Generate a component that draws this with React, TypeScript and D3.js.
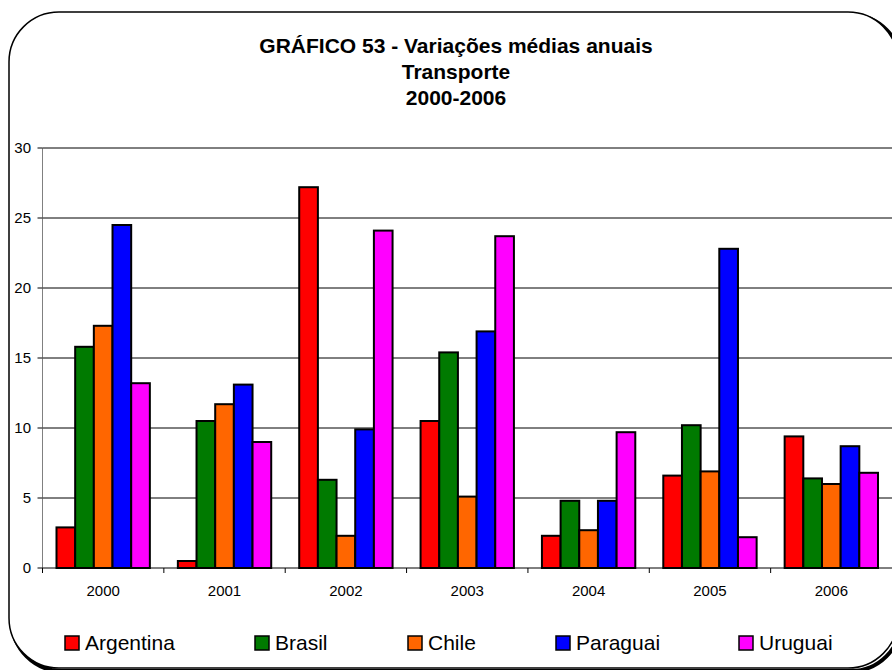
import React from 'react';
import * as d3 from 'd3';

const years = ['2000', '2001', '2002', '2003', '2004', '2005', '2006'];
const countries = ['Argentina', 'Brasil', 'Chile', 'Paraguai', 'Uruguai'];
const colors = ['#ff0000', '#007a00', '#ff6600', '#0000ff', '#ff00ff'];

const argentina = [2.9, 0.5, 27.2, 10.5, 2.3, 6.6, 9.4];
const brasil = [15.8, 10.5, 6.3, 15.4, 4.8, 10.2, 6.4];
const chile = [17.3, 11.7, 2.3, 5.1, 2.7, 6.9, 6.0];
const paraguai = [24.5, 13.1, 9.9, 16.9, 4.8, 22.8, 8.7];
const uruguai = [13.2, 9.0, 24.1, 23.7, 9.7, 2.2, 6.8];

const yTicks = [0, 5, 10, 15, 20, 25, 30];
const titleLines = ['GRÁFICO 53 - Variações médias anuais', 'Transporte', '2000-2006'];

const series = [argentina, brasil, chile, paraguai, uruguai];

const W = 892;
const H = 670;
const left = 42.5;
const right = 892;
const top = 148;
const bottom = 568;
const font = 'Arial, "Liberation Sans", sans-serif';

// legend item x positions (marker left edge)
const legendX = [65, 255, 408, 556, 739];

export default function App() {
  const x0 = d3.scaleBand<string>().domain(years).range([left, right]);
  const step = x0.bandwidth();
  const bw = step / 6.5;
  const x1 = d3.scaleBand<string>().domain(countries).range([0.75 * bw, step - 0.75 * bw]);
  const y = d3.scaleLinear().domain([0, 30]).range([bottom, top]);

  return (
    <svg width={W} height={H} style={{ position: 'absolute', left: 0, top: 0 }}>
      <rect width={W} height={H} fill="#fff" />
      {/* chart border with shadow */}
      <rect x={12} y={15} width={889} height={656} rx={50} ry={50} fill="none" stroke="#000" strokeWidth={4} />
      <rect x={9} y={12} width={889} height={656} rx={50} ry={50} fill="#fff" stroke="#000" strokeWidth={1.5} />

      {titleLines.map((t, i) => (
        <text key={t} x={456} y={53 + i * 26} textAnchor="middle" fontFamily={font} fontWeight="bold" fontSize={21}>
          {t}
        </text>
      ))}

      {/* gridlines */}
      {yTicks.filter(t => t > 0).map(t => (
        <line key={t} x1={left} x2={right} y1={y(t)} y2={y(t)} stroke="#000" strokeWidth={1} />
      ))}
      {/* y axis */}
      <line x1={left} x2={left} y1={top} y2={bottom} stroke="#808080" strokeWidth={1} />
      {yTicks.map(t => (
        <g key={t}>
          <line x1={left - 5} x2={left} y1={y(t)} y2={y(t)} stroke="#000" />
          <text x={31} y={y(t) + 5} textAnchor="end" fontFamily={font} fontSize={15}>{t}</text>
        </g>
      ))}

      {/* bars */}
      {years.map((yr, i) => (
        <g key={yr} transform={`translate(${x0(yr)},0)`}>
          {countries.map((c, j) => (
            <rect
              key={c}
              x={x1(c)}
              y={y(series[j][i])}
              width={x1.bandwidth()}
              height={y(0) - y(series[j][i])}
              fill={colors[j]}
              stroke="#000"
              strokeWidth={2}
            />
          ))}
        </g>
      ))}

      {/* x axis */}
      <line x1={left} x2={right} y1={bottom} y2={bottom} stroke="#000" />
      {years.map(yr => (
        <line key={yr} x1={x0(yr)} x2={x0(yr)} y1={bottom} y2={bottom + 5} stroke="#000" />
      ))}
      {years.map(yr => (
        <text key={yr} x={(x0(yr) as number) + step / 2} y={596} textAnchor="middle" fontFamily={font} fontSize={15}>
          {yr}
        </text>
      ))}

      {/* legend */}
      {countries.map((c, j) => (
        <g key={c} transform={`translate(${legendX[j]},636)`}>
          <rect x={0} y={0} width={14} height={14} fill={colors[j]} stroke="#000" strokeWidth={1.5} />
          <text x={20} y={13.5} fontFamily={font} fontSize={21}>{c}</text>
        </g>
      ))}
    </svg>
  );
}
